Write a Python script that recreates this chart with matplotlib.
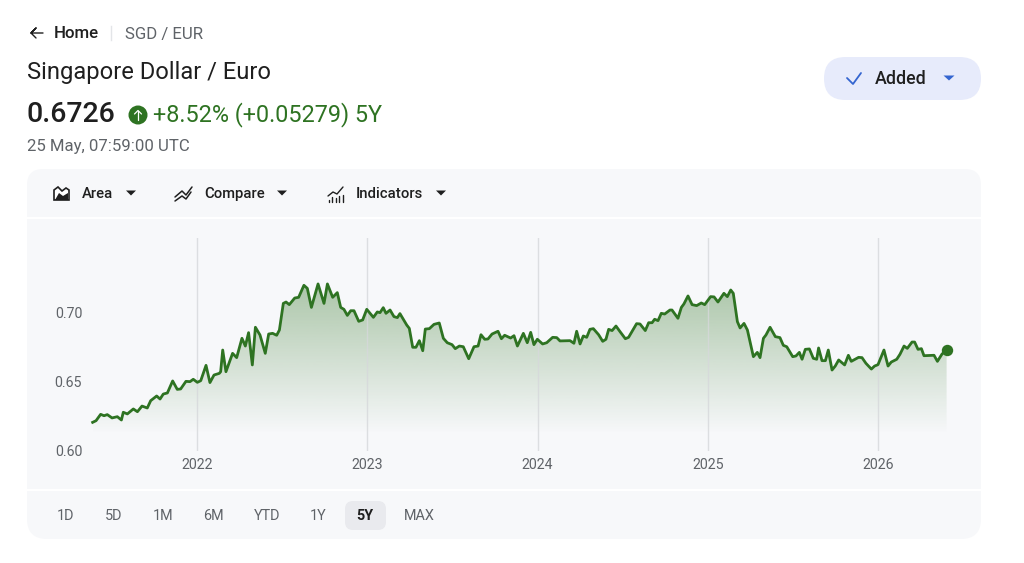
"""SGD / EUR five year area chart, finance page style."""

import matplotlib

matplotlib.use("Agg")
import matplotlib.pyplot as plt
import numpy as np
from matplotlib.patches import Circle, FancyBboxPatch, Polygon, Rectangle

plt.rcParams["font.family"] = ["Roboto", "DejaVu Sans"]

# price series, decimal year / rate
years = [
    2021.387, 2021.407, 2021.434, 2021.454, 2021.473, 2021.501, 2021.532, 2021.556, 2021.567, 2021.591,
    2021.626, 2021.650, 2021.677, 2021.708, 2021.728, 2021.763, 2021.783, 2021.802, 2021.826, 2021.857,
    2021.884, 2021.904, 2021.935, 2021.959, 2021.978, 2022.002, 2022.022, 2022.053, 2022.076, 2022.100,
    2022.131, 2022.139, 2022.151, 2022.170, 2022.209, 2022.233, 2022.264, 2022.284, 2022.303, 2022.325,
    2022.343, 2022.370, 2022.401, 2022.421, 2022.444, 2022.468, 2022.484, 2022.507, 2022.523, 2022.542,
    2022.574, 2022.597, 2022.628, 2022.648, 2022.672, 2022.711, 2022.746, 2022.766, 2022.797, 2022.824,
    2022.844, 2022.863, 2022.883, 2022.903, 2022.922, 2022.950, 2022.973, 2022.997, 2023.036, 2023.059,
    2023.075, 2023.094, 2023.110, 2023.134, 2023.157, 2023.177, 2023.192, 2023.212, 2023.232, 2023.247,
    2023.267, 2023.286, 2023.306, 2023.326, 2023.341, 2023.365, 2023.392, 2023.423, 2023.447, 2023.470,
    2023.498, 2023.517, 2023.541, 2023.564, 2023.596, 2023.627, 2023.651, 2023.668, 2023.690, 2023.709,
    2023.733, 2023.768, 2023.788, 2023.807, 2023.842, 2023.862, 2023.882, 2023.917, 2023.940, 2023.960,
    2023.979, 2023.999, 2024.030, 2024.054, 2024.089, 2024.113, 2024.132, 2024.191, 2024.214, 2024.230,
    2024.250, 2024.269, 2024.289, 2024.308, 2024.328, 2024.359, 2024.383, 2024.402, 2024.418, 2024.438,
    2024.461, 2024.485, 2024.516, 2024.535, 2024.582, 2024.602, 2024.633, 2024.653, 2024.673, 2024.688,
    2024.708, 2024.727, 2024.747, 2024.778, 2024.790, 2024.825, 2024.845, 2024.860, 2024.884, 2024.908,
    2024.935, 2024.962, 2024.982, 2025.017, 2025.037, 2025.060, 2025.095, 2025.115, 2025.135, 2025.150,
    2025.174, 2025.190, 2025.213, 2025.233, 2025.268, 2025.291, 2025.307, 2025.327, 2025.342, 2025.366,
    2025.397, 2025.424, 2025.444, 2025.464, 2025.499, 2025.518, 2025.538, 2025.554, 2025.573, 2025.597,
    2025.620, 2025.640, 2025.651, 2025.671, 2025.691, 2025.708, 2025.730, 2025.749, 2025.769, 2025.804,
    2025.826, 2025.843, 2025.886, 2025.906, 2025.929, 2025.961, 2025.980, 2026.000, 2026.035, 2026.059,
    2026.078, 2026.110, 2026.129, 2026.153, 2026.172, 2026.200, 2026.215, 2026.235, 2026.255, 2026.270,
    2026.329, 2026.349, 2026.376, 2026.403,
]
rates = [
    0.6204, 0.6216, 0.6262, 0.6252, 0.6260, 0.6236, 0.6245, 0.6221, 0.6277, 0.6265,
    0.6301, 0.6281, 0.6322, 0.6308, 0.6361, 0.6395, 0.6373, 0.6409, 0.6417, 0.6504,
    0.6443, 0.6446, 0.6501, 0.6499, 0.6516, 0.6494, 0.6506, 0.6617, 0.6492, 0.6547,
    0.6559, 0.6571, 0.6728, 0.6571, 0.6704, 0.6673, 0.6813, 0.6757, 0.6854, 0.6620,
    0.6893, 0.6837, 0.6704, 0.6844, 0.6849, 0.6835, 0.6873, 0.7066, 0.7076, 0.7057,
    0.7105, 0.7110, 0.7197, 0.7175, 0.7037, 0.7207, 0.7066, 0.7207, 0.7110, 0.7144,
    0.7037, 0.7023, 0.6979, 0.7013, 0.7013, 0.6936, 0.6946, 0.7023, 0.6965, 0.7004,
    0.6999, 0.7035, 0.6994, 0.7018, 0.6970, 0.6963, 0.6992, 0.6951, 0.6909, 0.6885,
    0.6748, 0.6748, 0.6796, 0.6723, 0.6880, 0.6883, 0.6914, 0.6924, 0.6813, 0.6781,
    0.6767, 0.6738, 0.6757, 0.6752, 0.6665, 0.6752, 0.6757, 0.6839, 0.6806, 0.6808,
    0.6844, 0.6864, 0.6810, 0.6835, 0.6815, 0.6832, 0.6757, 0.6849, 0.6781, 0.6856,
    0.6767, 0.6806, 0.6772, 0.6781, 0.6820, 0.6818, 0.6794, 0.6796, 0.6777, 0.6864,
    0.6772, 0.6830, 0.6820, 0.6878, 0.6883, 0.6839, 0.6791, 0.6806, 0.6878, 0.6869,
    0.6902, 0.6861, 0.6810, 0.6820, 0.6919, 0.6917, 0.6869, 0.6926, 0.6926, 0.6951,
    0.6941, 0.6994, 0.6989, 0.7018, 0.7018, 0.6958, 0.7037, 0.7062, 0.7120, 0.7057,
    0.7050, 0.7069, 0.7057, 0.7115, 0.7113, 0.7076, 0.7139, 0.7115, 0.7163, 0.7139,
    0.6934, 0.6888, 0.6921, 0.6873, 0.6680, 0.6711, 0.6673, 0.6813, 0.6837, 0.6893,
    0.6825, 0.6818, 0.6762, 0.6752, 0.6680, 0.6685, 0.6711, 0.6661, 0.6733, 0.6736,
    0.6668, 0.6661, 0.6743, 0.6651, 0.6651, 0.6728, 0.6583, 0.6612, 0.6656, 0.6620,
    0.6690, 0.6646, 0.6675, 0.6673, 0.6632, 0.6590, 0.6612, 0.6622, 0.6728, 0.6612,
    0.6641, 0.6661, 0.6697, 0.6757, 0.6740, 0.6786, 0.6786, 0.6733, 0.6738, 0.6687,
    0.6690, 0.6646, 0.6699, 0.6728,
]
year_ticks = [2022, 2023, 2024, 2025, 2026]
rate_ticks = [0.60, 0.65, 0.70]
ranges = ["1D", "5D", "1M", "6M", "YTD", "1Y", "5Y", "MAX"]
range_x = [66, 114, 163, 213, 267, 318, 365, 419]

GREEN = "#2e7322"
PANEL = "#f7f8fa"
DARK = "#1f1f1f"
GREY = "#5f6368"

W, H = 1024, 563
fig = plt.figure(figsize=(W / 100, H / 100), dpi=100, facecolor="white")

# page chrome is drawn in pixel coordinates
page = fig.add_axes([0, 0, 1, 1])
page.set_xlim(0, W)
page.set_ylim(H, 0)
page.axis("off")


def rounded(x0, y0, x1, y1, r, color, zorder=1):
    page.add_patch(
        FancyBboxPatch(
            (x0 + r, y0 + r),
            x1 - x0 - 2 * r,
            y1 - y0 - 2 * r,
            boxstyle=f"round,pad={r},rounding_size={r}",
            fc=color,
            ec="none",
            zorder=zorder,
        )
    )


def caret(x, y, color=DARK, w=5, h=5):
    page.add_patch(Polygon([(x - w, y - h / 2), (x + w, y - h / 2), (x, y + h / 2)], fc=color, ec="none", zorder=3))


def polyline(xs, ys, color=DARK, lw=1.2):
    page.plot(xs, ys, color=color, lw=lw, solid_capstyle="round", solid_joinstyle="round", zorder=3)


# header
polyline([43, 31, 36, 31, 36], [33, 33, 28, 33, 38], DARK, 1.0)
page.text(53.5, 34, "Home", fontsize=12.2, fontweight="medium", color=DARK, va="center")
page.plot([110.5, 110.5], [26, 40], color="#e3e5e8", lw=1.0)
page.text(125, 34, "SGD / EUR", fontsize=12.1, color=GREY, va="center")
page.text(27, 73, "Singapore Dollar / Euro", fontsize=17.1, color=DARK, va="center")
page.text(27, 115, "0.6726", fontsize=20.5, fontweight="medium", color=DARK, va="center")
page.add_patch(Circle((138, 115), 9.5, fc=GREEN, ec="none", zorder=3))
polyline([138, 138], [119.5, 110.5], "white", 0.9)
polyline([134.5, 138, 141.5], [114, 110.5, 114], "white", 0.9)
page.text(153, 115, "+8.52% (+0.05279) 5Y", fontsize=16.8, color=GREEN, va="center")
page.text(27, 146, "25 May, 07:59:00 UTC", fontsize=12.1, color=GREY, va="center")

# Added button
rounded(824, 57, 981, 100, 21.5, "#e7ebfb")
polyline([847, 853, 861], [78, 84, 73], "#3465d0", 1.3)
page.text(875, 79, "Added", fontsize=12.8, fontweight="medium", color=DARK, va="center")
caret(949, 78, "#3465d0", 5.5, 5)

# panels
rounded(27, 169, 981, 240, 16, PANEL)
page.add_patch(Rectangle((27, 190), 954, 27, fc=PANEL, ec="none", zorder=1))
page.add_patch(Rectangle((0, 217), W, 2, fc="white", ec="none", zorder=2))
page.add_patch(Rectangle((27, 219), 954, 270, fc=PANEL, ec="none", zorder=2))
rounded(27, 470, 981, 539, 20, PANEL)
page.add_patch(Rectangle((27, 491), 954, 24, fc=PANEL, ec="none", zorder=1))
page.add_patch(Rectangle((0, 489), W, 2, fc="white", ec="none", zorder=2))

# toolbar
page.add_patch(Polygon([(54, 200), (54, 190), (58, 187), (62, 191), (66, 188), (69, 190), (69, 200)],
                       fc="white", ec=DARK, lw=1.2, zorder=3))
page.add_patch(Polygon([(55, 200), (59, 193), (63, 196), (68, 193), (68, 200)], fc=DARK, ec="none", zorder=3))
page.text(82, 194, "Area", fontsize=10.7, fontweight="medium", color=DARK, va="center")
caret(131, 193)
polyline([175, 182, 186, 192], [197, 191, 195, 187], DARK, 1.1)
polyline([175, 182, 186, 191], [201, 196, 199, 192], DARK, 1.1)
page.text(204, 194, "Compare", fontsize=10.7, fontweight="medium", color=DARK, va="center")
caret(282, 193)
polyline([328, 333, 337, 343], [196, 192, 194, 187], DARK, 1.0)
for bar_x, bar_top in zip([328.5, 332, 335.5, 339, 342.5], [200, 197, 198, 196, 195]):
    polyline([bar_x, bar_x], [bar_top, 202], DARK, 1.0)
page.text(356, 194, "Indicators", fontsize=10.7, fontweight="medium", color=DARK, va="center")
caret(441, 193)

# range selector
rounded(345, 501, 386, 530, 8, "#e9eaee", zorder=3)
for label, x in zip(ranges, range_x):
    active = label == "5Y"
    page.text(
        x, 516, label, fontsize=10.4, ha="center", va="center", zorder=4,
        color=DARK if active else GREY, fontweight="bold" if active else "normal",
    )

# chart, positioned so the years and rates land where they do in the page
px_left, px_right, px_top, px_bottom = 60, 960, 238, 450.5
ax = fig.add_axes(
    [px_left / W, 1 - px_bottom / H, (px_right - px_left) / W, (px_bottom - px_top) / H],
    facecolor="none",
)
gradient = np.linspace(0, 1, 256).reshape(-1, 1)
rgba = np.zeros((256, 1, 4))
rgba[..., :3] = matplotlib.colors.to_rgb(GREEN)
rgba[..., 3] = 0.38 * gradient[::-1]
image = ax.imshow(
    rgba, origin="upper", aspect="auto", zorder=1,
    extent=[min(years), max(years), 0.612, 0.722],
)
fill = ax.fill_between(years, rates, 0.60, color="none", lw=0)
image.set_clip_path(fill.get_paths()[0], transform=ax.transData)
ax.set_xlim(2022 + (px_left - 197) / 170.25, 2022 + (px_right - 197) / 170.25)
ax.set_ylim(0.60, 0.60 + (px_bottom - px_top) / 1380)

ax.set_xticks(year_ticks)
ax.set_xticklabels([str(y) for y in year_ticks])
ax.set_yticks(rate_ticks)
ax.set_yticklabels([f"{v:.2f}" for v in rate_ticks])
ax.tick_params(axis="both", length=0, labelsize=10.2, labelcolor=GREY)
ax.tick_params(axis="x", pad=5.5)
ax.tick_params(axis="y", pad=-16)
ax.grid(axis="x", color="#d6d8db", lw=1.0, alpha=0.8, zorder=2)
ax.set_axisbelow(False)
for spine in ax.spines.values():
    spine.set_visible(False)

ax.plot(years, rates, color=GREEN, lw=2.0, solid_joinstyle="round", zorder=3)
ax.plot(years[-1], rates[-1], "o", color=GREEN, ms=8.2, mec="none", zorder=4)

fig.savefig("out.png", dpi=100, facecolor="white")
